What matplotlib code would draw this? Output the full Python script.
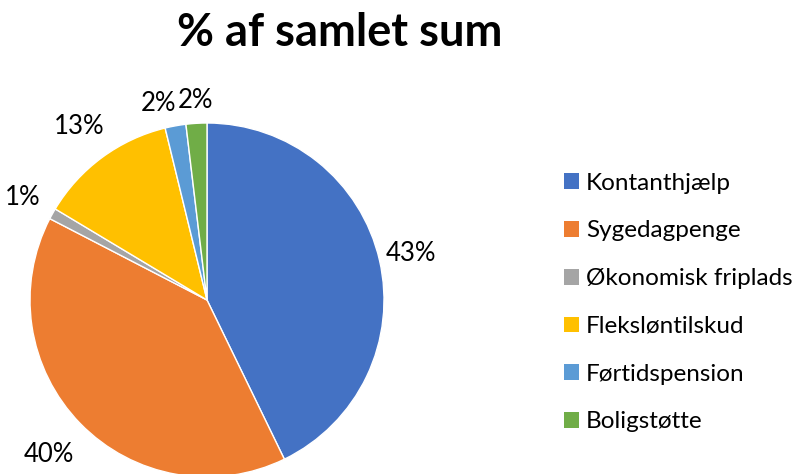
import numpy as np
import matplotlib
matplotlib.use("Agg")
import matplotlib.pyplot as plt
from matplotlib.patches import Patch

categories = ["Kontanthjælp", "Sygedagpenge", "Økonomisk friplads",
              "Fleksløntilskud", "Førtidspension", "Boligstøtte"]
values = [42.8, 39.8, 1.0, 12.6, 1.9, 1.9]
colors = ["#4472C4", "#ED7D31", "#A5A5A5", "#FFC000", "#5B9BD5", "#70AD47"]
title = "% af samlet sum"

# label placement style (distance in radii, x-shift in radii)
label_dist = [1.18, 1.25, 1.19, 1.22, 1.13, 1.13]
label_dx = [0.0, 0.0, 0.0, 0.0, -0.07, 0.0]

plt.rcParams['font.family'] = ['Lato', 'DejaVu Sans']

fig = plt.figure(figsize=(7.97, 4.74), dpi=100)
W, H = 797, 474
cx, cy, R = 207, 300, 177
ax = fig.add_axes([(cx - R) / W, (H - cy - R) / H, 2 * R / W, 2 * R / H])
wedges, texts, autotexts = ax.pie(
    values, colors=colors, startangle=90, counterclock=False,
    radius=1, autopct=lambda p: f"{p:.0f}%", pctdistance=1.2,
    wedgeprops=dict(edgecolor="white", linewidth=1.0),
    textprops=dict(fontsize=18.5, color="#000000"))
for w, t, d, dx in zip(wedges, autotexts, label_dist, label_dx):
    ang = np.deg2rad((w.theta1 + w.theta2) / 2)
    t.set_position((d * np.cos(ang) + dx, d * np.sin(ang)))
    t.set_ha("center")
    t.set_va("center")
ax.set_xlim(-1, 1)
ax.set_ylim(-1, 1)
ax.set_aspect("equal")
ax.axis("off")

fig.text(340 / W, 1 - 33 / H, title, ha="center", va="center",
         fontsize=32.5, fontweight="bold")

handles = [Patch(facecolor=c, edgecolor="none") for c in colors]
leg = fig.legend(handles, categories, loc="upper left",
                 bbox_to_anchor=(554 / W, 1 - 163 / H), frameon=False,
                 fontsize=17.5, handlelength=0.62, handleheight=0.62,
                 handletextpad=0.3, labelspacing=1.1, borderaxespad=0)

fig.savefig("out.png", dpi=100)
